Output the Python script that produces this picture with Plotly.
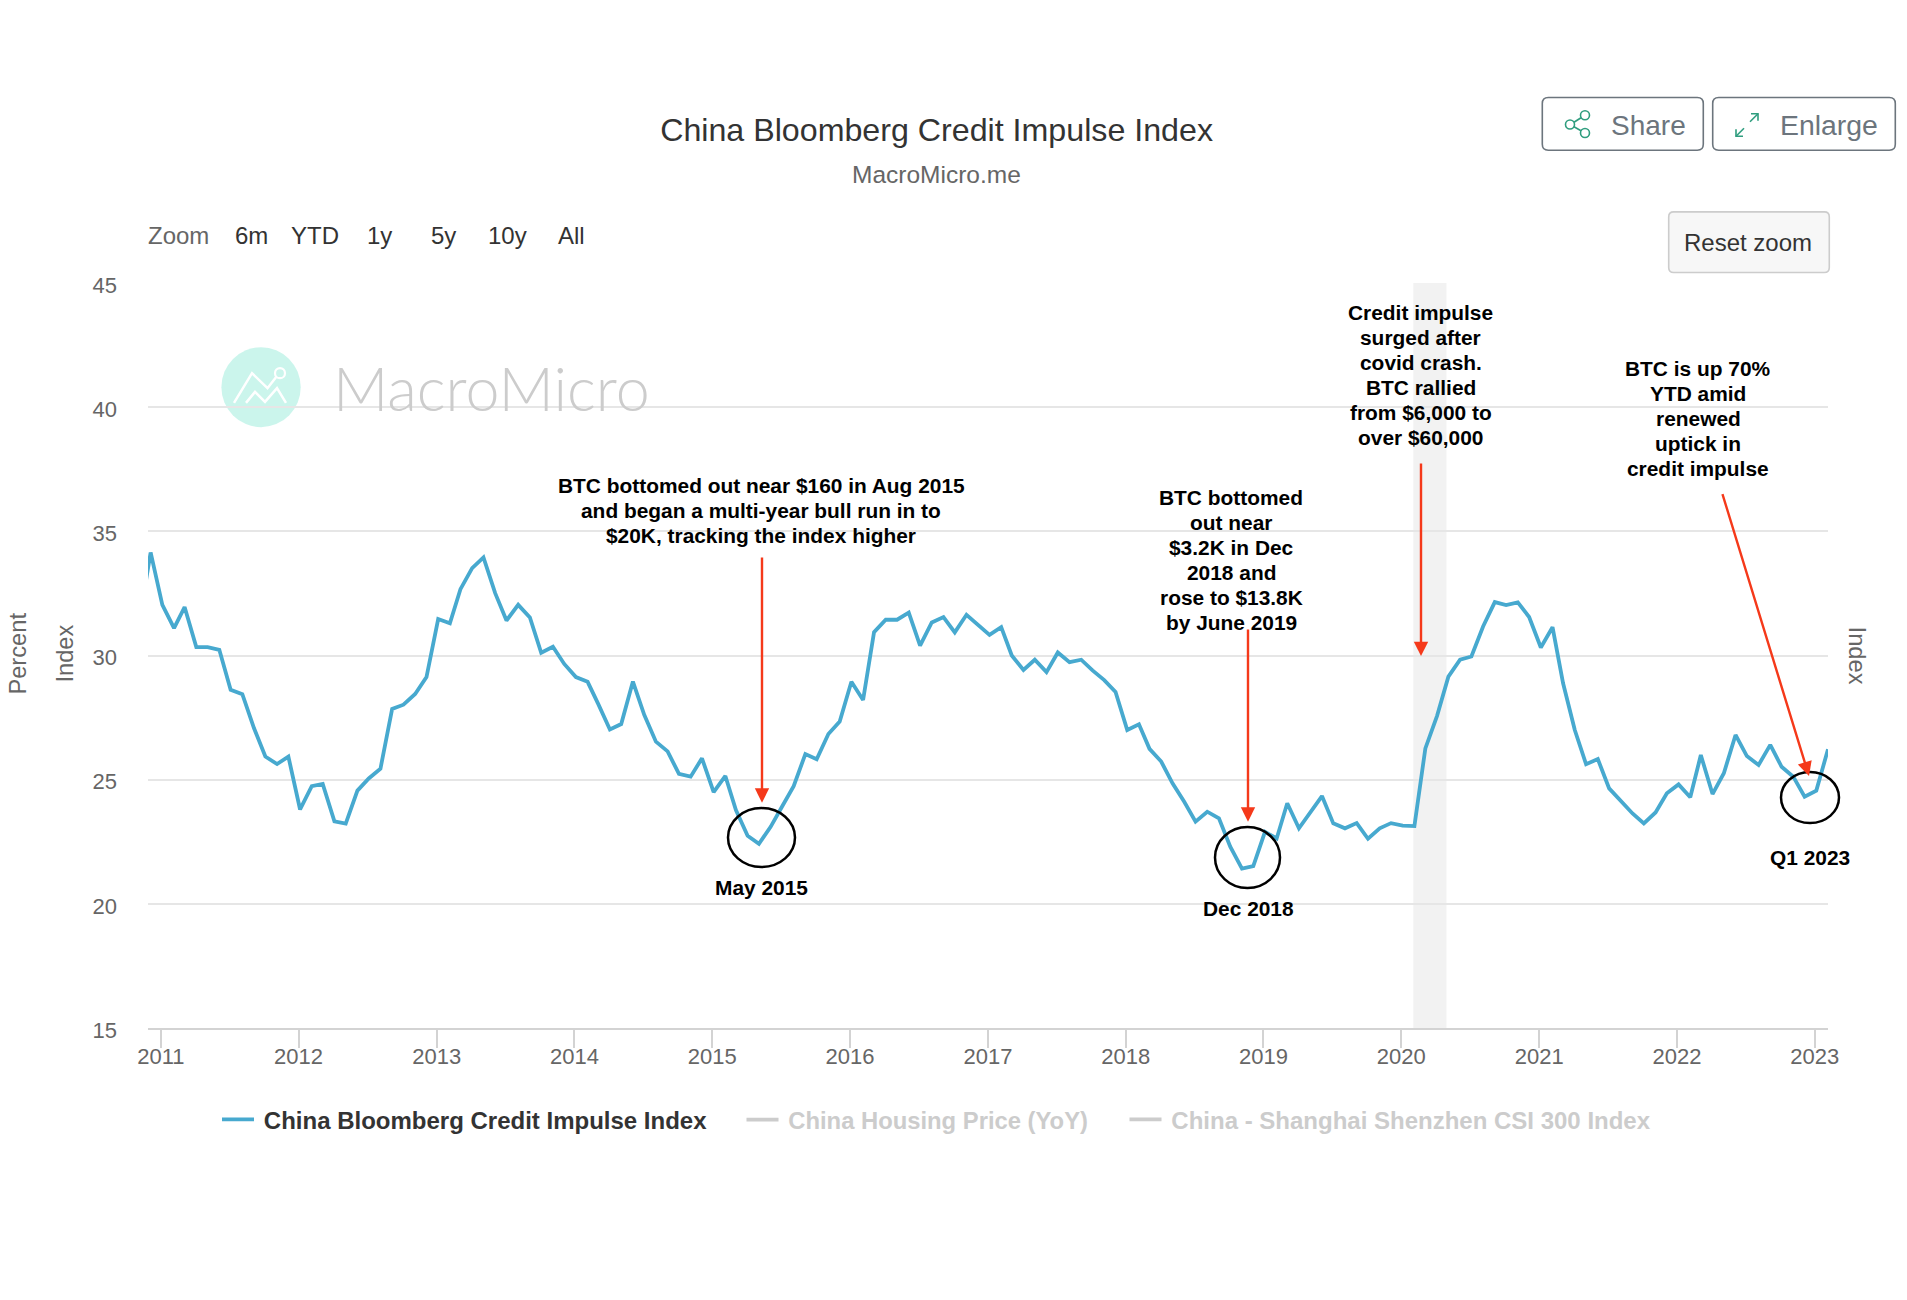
"""
China Bloomberg Credit Impulse Index, MacroMicro style chart with BTC notes.
"""
import pandas as pd
import plotly.graph_objects as go

# monthly values from Nov 2010 (clipped by the axis) to Feb 2023
first_month = "2010-11-01"
impulse = [
    31.40, 34.15, 32.04, 31.10, 31.95, 30.34, 30.34, 30.23, 28.62, 28.44, 27.07, 25.93,
    25.63, 25.93, 23.80, 24.74, 24.83, 23.32, 23.23, 24.56, 25.05, 25.44, 27.85, 28.02,
    28.45, 29.13, 31.47, 31.30, 32.67, 33.52, 33.95, 32.51, 31.41, 32.04, 31.53, 30.11,
    30.35, 29.66, 29.13, 28.94, 28.05, 27.02, 27.24, 28.95, 27.61, 26.53, 26.14, 25.23,
    25.12, 25.86, 24.50, 25.15, 23.78, 22.74, 22.42, 23.10, 23.91, 24.74, 26.03, 25.82,
    26.84, 27.34, 28.94, 28.21, 30.94, 31.44, 31.44, 31.73, 30.40, 31.33, 31.55, 30.93,
    31.64, 31.24, 30.83, 31.14, 30.00, 29.42, 29.83, 29.33, 30.12, 29.73, 29.83, 29.40,
    29.01, 28.53, 27.00, 27.23, 26.24, 25.73, 24.85, 24.11, 23.31, 23.71, 23.44, 22.30,
    21.42, 21.52, 22.90, 22.63, 24.05, 23.04, 23.71, 24.34, 23.24, 23.04, 23.25, 22.62,
    23.04, 23.25, 23.15, 23.13, 26.26, 27.57, 29.15, 29.83, 29.96, 31.17, 32.15, 32.03,
    32.14, 31.55, 30.32, 31.14, 28.88, 27.00, 25.62, 25.83, 24.65, 24.14, 23.64, 23.24,
    23.68, 24.45, 24.81, 24.29, 25.99, 24.42, 25.26, 26.80, 25.95, 25.59, 26.40, 25.52,
    25.12, 24.31, 24.56, 26.22,
]
months = pd.date_range(first_month, periods=len(impulse), freq="MS") + pd.Timedelta(days=4)

series_names = [
    "China Bloomberg Credit Impulse Index",
    "China Housing Price (YoY)",
    "China - Shanghai Shenzhen CSI 300 Index",
]
y_ticks = [15, 20, 25, 30, 35, 40, 45]
zoom_labels = ["Zoom", "6m", "YTD", "1y", "5y", "10y", "All"]

FONT = "Liberation Sans"
BLUE = "#47a9cf"
RED = "#f5391a"
GREY = "#666666"
GREEN = "#2f9d7e"

# plot box in page pixels; the page body margin is removed when the file is written
W, H = 1907, 1300
L, R, T, B = 148, 1828, 282.8, 1028


def px(x):
    return (x - L) / (R - L)


def py(y):
    return (B - y) / (B - T)


def text(x, y, s, size, color="#000000", bold=False, angle=0):
    fig.add_annotation(
        x=px(x), y=py(y), xref="paper", yref="paper", text=s, showarrow=False,
        xanchor="center", yanchor="middle", textangle=angle,
        font=dict(family=FONT, size=size, color=color, weight=700 if bold else 400),
    )


def note(x, y, lines, step=25):
    # bold note, one annotation per line so the line pitch follows the picture
    top = y - step * (len(lines) - 1) / 2
    for i, line in enumerate(lines):
        text(x, top + i * step, line, NOTE_SIZE, bold=True)


def arrow(x0, y0, x1, y1):
    fig.add_annotation(
        x=px(x1), y=py(y1), xref="paper", yref="paper", text="",
        ax=x0 - x1, ay=y0 - y1, axref="pixel", ayref="pixel",
        showarrow=True, arrowhead=2, arrowsize=1.2, arrowwidth=2.4, arrowcolor=RED,
    )


def path(points, close=False):
    s = "M " + " L ".join(f"{px(x):.5f},{py(y):.5f}" for x, y in points)
    return s + (" Z" if close else "")


def line_shape(points, color, width):
    fig.add_shape(type="path", xref="paper", yref="paper", path=path(points),
                  line=dict(color=color, width=width))


def ellipse(x0, y0, x1, y1, color="#000000", width=2.5, fill=None, layer="above"):
    fig.add_shape(type="circle", xref="paper", yref="paper",
                  x0=px(x0), x1=px(x1), y0=py(y0), y1=py(y1), layer=layer,
                  line=dict(color=color, width=width), fillcolor=fill)


def button(x0, y0, x1, y1, color, fill=None, r=6):
    s = (f"M {px(x0 + r):.5f},{py(y0):.5f} L {px(x1 - r):.5f},{py(y0):.5f} "
         f"Q {px(x1):.5f},{py(y0):.5f} {px(x1):.5f},{py(y0 + r):.5f} "
         f"L {px(x1):.5f},{py(y1 - r):.5f} Q {px(x1):.5f},{py(y1):.5f} {px(x1 - r):.5f},{py(y1):.5f} "
         f"L {px(x0 + r):.5f},{py(y1):.5f} Q {px(x0):.5f},{py(y1):.5f} {px(x0):.5f},{py(y1 - r):.5f} "
         f"L {px(x0):.5f},{py(y0 + r):.5f} Q {px(x0):.5f},{py(y0):.5f} {px(x0 + r):.5f},{py(y0):.5f} Z")
    fig.add_shape(type="path", xref="paper", yref="paper", path=s,
                  line=dict(color=color, width=1.6), fillcolor=fill)


NOTE_SIZE = 20.9

fig = go.Figure()
# thin space keeps the legend text as far from its line as in the picture
fig.add_trace(go.Scatter(x=months, y=impulse, mode="lines", name="\u2009" + series_names[0],
                         line=dict(color=BLUE, width=3.8), legend="legend"))
# hidden series only show up greyed out in the legend
for name, leg in zip(series_names[1:], ["legend2", "legend3"]):
    fig.add_trace(go.Scatter(x=[None], y=[None], mode="lines", name="\u2009" + name,
                             line=dict(color="#cccccc", width=3.8), legend=leg))


def legend_at(x, color, size=24):
    return dict(x=px(x), y=py(1119.7), xanchor="left", yanchor="middle",
                bgcolor="rgba(0,0,0,0)", itemwidth=32,
                font=dict(family=FONT, size=size, color=color, weight=700))


fig.update_layout(
    width=W, height=H, paper_bgcolor="white", plot_bgcolor="white",
    margin=dict(l=L, r=W - R, t=T, b=H - B),
    showlegend=True,
    legend=legend_at(217, "#333333"),
    legend2=legend_at(741.5, "#cccccc", 23.8),
    legend3=legend_at(1124.5, "#cccccc"),
    title=dict(text="China Bloomberg Credit Impulse Index", xref="paper", x=px(936.6),
               xanchor="center", yref="container", y=1 - 130 / H, yanchor="middle",
               font=dict(family=FONT, size=32.2, color="#333333")),
    xaxis=dict(
        type="date", range=["2010-11-28", "2023-02-05"], dtick="M12", tick0="2011-01-01",
        tickformat="%Y", ticks="outside", ticklen=18, tickwidth=1.5, tickcolor="#d3d3d3",
        showline=True, linecolor="#d3d3d3", linewidth=2, showgrid=False, zeroline=False,
        ticklabelstandoff=-10,
        tickfont=dict(family=FONT, size=22, color=GREY),
    ),
    yaxis=dict(
        range=[15, 45], tickvals=y_ticks, ticks="", ticklabelstandoff=30, ticklabelshift=2,
        gridcolor="#e6e6e6", gridwidth=1.5, zeroline=False, showline=False,
        tickfont=dict(family=FONT, size=22, color=GREY),
    ),
)

# covid shading
fig.add_vrect(x0="2020-02-02", x1="2020-04-30", fillcolor="rgba(0,0,0,0.05)",
              line_width=0, layer="below")

# watermark
ellipse(221.4, 347, 300.7, 427, color="rgba(0,0,0,0)", width=0,
        fill="rgba(124,229,208,0.4)", layer="below")
line_shape([(234, 402.7), (252, 373), (267.5, 388), (276, 377)], "white", 2.5)
line_shape([(246, 402.7), (255, 391.7), (265, 401.7), (277, 388), (286, 402.7)], "white", 2.5)
ellipse(275, 368, 285, 378, color="white", width=2.2)
fig.add_annotation(x=px(491), y=py(387), xref="paper", yref="paper", text="MacroMicro",
                   showarrow=False, xanchor="center", yanchor="middle",
                   font=dict(family="Lato", size=61, color="#cccccc", weight=300))

# header texts
text(936.6, 174, "MacroMicro.me", 24.5, GREY)
for label, x in zip(zoom_labels, [178, 251, 315, 379.5, 443, 507, 571]):
    text(x, 235, label, 24, GREY if label == "Zoom" else "#333333")

# buttons
button(1542.3, 97.3, 1703.3, 150, "#6c757d")
text(1648, 125, "Share", 28, "#6c757d")
ellipse(1580.5, 110.5, 1589.5, 119.5, GREEN, 1.6)
ellipse(1565.5, 119.8, 1574.5, 128.8, GREEN, 1.6)
ellipse(1580.5, 128.2, 1589.5, 137.2, GREEN, 1.6)
line_shape([(1581, 117.5), (1574, 122)], GREEN, 1.6)
line_shape([(1574, 126.5), (1581, 130.5)], GREEN, 1.6)
button(1712.7, 97.3, 1895.3, 150, "#6c757d")
text(1829, 125, "Enlarge", 28.4, "#6c757d")
line_shape([(1736, 136), (1744, 128)], GREEN, 1.6)
line_shape([(1736, 129), (1736, 136), (1743, 136)], GREEN, 1.6)
line_shape([(1750, 121.5), (1758, 113.5)], GREEN, 1.6)
line_shape([(1751, 113.5), (1758, 113.5), (1758, 120.5)], GREEN, 1.6)
button(1668.7, 211.7, 1829.3, 272.3, "#cccccc", fill="#f7f7f7", r=5)
text(1748, 242.7, "Reset zoom", 24, "#333333")

# axis titles
text(18.5, 654, "Percent", 23.7, GREY, angle=-90)
text(65.5, 654, "Index", 23.7, GREY, angle=-90)
text(1856.5, 655, "Index", 23.7, GREY, angle=90)

# notes
note(761, 510.6, ["BTC bottomed out near $160 in Aug 2015",
                  "and began a multi-year bull run in to",
                  "$20K, tracking the index higher"])
note(1231, 559.7, ["BTC bottomed", "out near", "$3.2K in Dec", "2018 and",
                   "rose to $13.8K", "by June 2019"])
note(1420.5, 374.5, ["Credit impulse", "surged after", "covid crash.", "BTC rallied",
                     "from $6,000 to", "over $60,000"])
note(1698, 418, ["BTC is up 70%", "YTD amid", "renewed", "uptick in", "credit impulse"])
text(761, 887, "May 2015", NOTE_SIZE, bold=True)
text(1248, 908.6, "Dec 2018", NOTE_SIZE, bold=True)
text(1810, 857, "Q1 2023", NOTE_SIZE, bold=True)

arrow(762, 556, 762, 802.7)
arrow(1248, 628, 1248, 821.7)
arrow(1421, 462, 1421, 656)
arrow(1722, 492.5, 1809, 776)

ellipse(728, 808, 795, 867)
ellipse(1215, 827, 1280, 888)
ellipse(1781, 772, 1839, 823)

fig.write_html("out.html", config={"displayModeBar": False},
               post_script="document.body.style.margin = '0';")
